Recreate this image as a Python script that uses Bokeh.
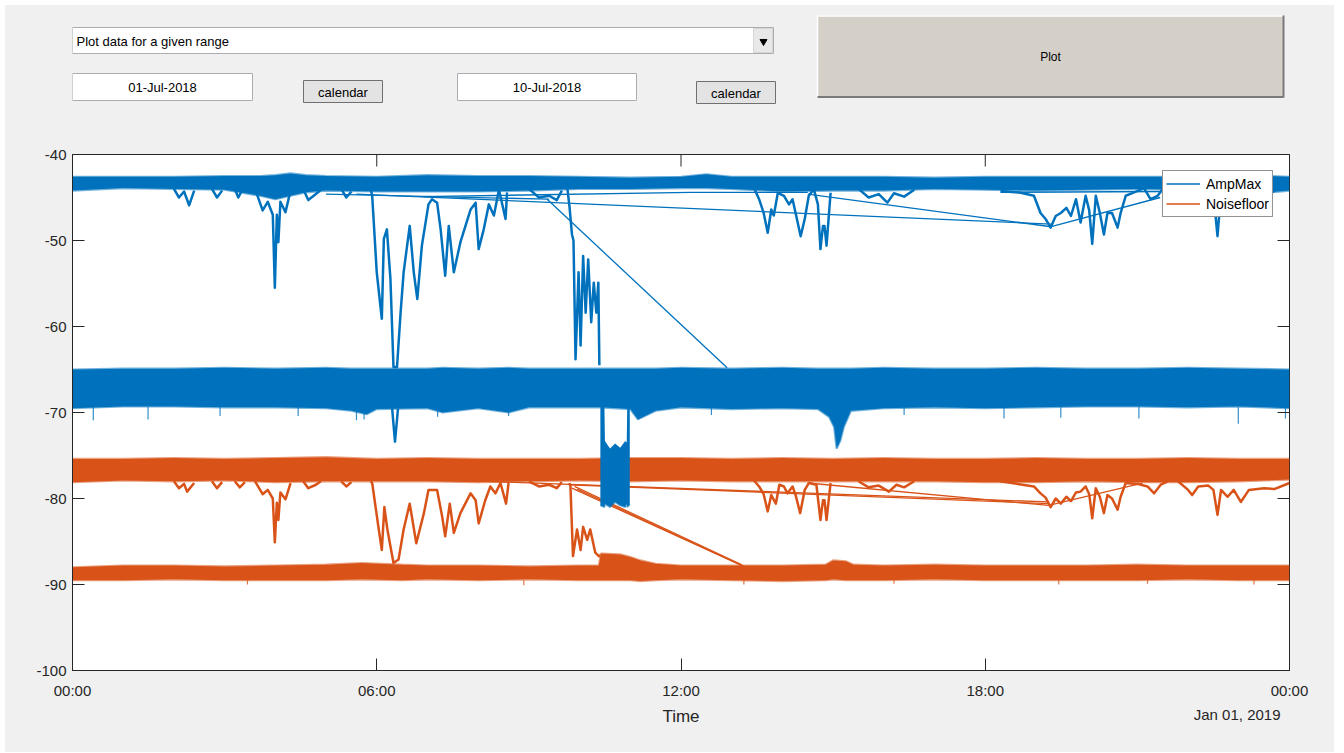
import math
from bokeh.plotting import figure
from bokeh.layouts import column
from bokeh.models import Range1d, FixedTicker, Legend, LegendItem
from bokeh.core.properties import value
from bokeh.embed import file_html
from bokeh.resources import INLINE

BLUE = "#0072BD"
ORANGE = "#D95319"
AX = "#262626"
BG = "#F0F0F0"
FONT = "Liberation Sans"

# ---------------- labels ----------------
RANGE_CHOICE = "Plot data for a given range"
START_DATE = "01-Jul-2018"
END_DATE = "10-Jul-2018"
CAL_TEXT = "calendar"
PLOT_TEXT = "Plot"
SERIES = ["AmpMax", "Noisefloor"]
HOUR_TICKS = [0, 6, 12, 18, 24]
HOUR_LABELS = ["00:00", "06:00", "12:00", "18:00", "00:00"]
LEVEL_TICKS = [-100, -90, -80, -70, -60, -50, -40]
X_TITLE = "Time"
DATE_LABEL = "Jan 01, 2019"

# ---------------- AmpMax: dense band, upper mode (hour, envelope) ----------------
amp_hi_t = [0, 1, 2, 3, 3.7, 4.0, 4.3, 4.6, 5, 6, 7, 8, 9, 10, 11, 12, 12.5, 13,
            14, 15, 16, 17, 18, 19, 20, 21, 22, 23, 23.6, 24]
amp_hi_up = [-42.6, -42.6, -42.6, -42.5, -42.5, -42.4, -42.2, -42.4, -42.5, -42.6,
             -42.4, -42.5, -42.5, -42.6, -42.7, -42.6, -42.3, -42.6, -42.6, -42.6,
             -42.6, -42.7, -42.6, -42.6, -42.6, -42.6, -42.6, -42.6, -42.5, -42.6]
amp_hi_lo = [-44.2, -43.9, -44.0, -44.1, -44.8, -45.2, -44.8, -44.4, -44.2, -44.3,
             -44.3, -44.3, -44.2, -44.0, -44.0, -43.9, -43.9, -44.0, -44.3, -44.2,
             -44.2, -44.0, -44.1, -44.2, -44.1, -44.0, -44.1, -44.0, -44.4, -44.2]

# ---------------- AmpMax: dense band, lower mode ----------------
amp_lo_t = [0, 1, 2, 3, 4, 5, 5.5, 5.8, 6, 7, 7.3, 8, 8.6, 9, 10, 10.4, 11.0, 11.15,
            11.5, 12, 13, 14, 14.7, 14.92, 15.02, 15.07, 15.14, 15.21, 15.35, 16, 17,
            18, 19, 20, 21, 22, 23, 24]
amp_lo_up = [-65.0, -64.9, -64.9, -64.8, -64.9, -64.8, -64.9, -64.9, -64.9, -64.9,
             -64.8, -64.9, -64.8, -64.9, -64.9, -64.9, -64.9, -64.9, -64.9, -64.8,
             -64.9, -64.8, -64.9, -64.9, -64.9, -64.9, -64.9, -64.9, -64.9, -64.8,
             -64.9, -64.9, -64.8, -64.9, -64.9, -64.8, -64.9, -65.0]
amp_lo_lo = [-69.5, -69.3, -69.3, -69.4, -69.4, -69.5, -69.8, -70.2, -69.6, -69.5,
             -70.0, -69.5, -70.0, -69.4, -69.4, -69.4, -69.6, -70.8, -69.8, -69.4,
             -69.6, -69.5, -69.6, -70.5, -71.7, -74.2, -73.3, -71.7, -69.8, -69.5,
             -69.4, -69.5, -69.4, -69.3, -69.3, -69.4, -69.3, -69.5]

# isolated low samples poking out of the AmpMax lower band
amp_lo_spike_t = [0.41, 1.49, 2.91, 4.45, 5.6, 5.75, 7.2, 8.6, 12.6, 16.4, 18.37,
                  19.49, 21.03, 22.99, 23.92]
amp_lo_spike_from = [-69.3, -69.3, -69.3, -69.3, -69.6, -69.8, -69.7, -69.8, -69.4,
                     -69.4, -69.4, -69.4, -69.3, -69.4, -69.3]
amp_lo_spike_to = [-70.9, -70.8, -70.4, -70.4, -70.9, -70.8, -70.5, -70.4, -70.3,
                   -70.3, -70.7, -70.6, -70.7, -71.3, -70.7]

# AmpMax drop-out block around 10:30
amp_gap_t = [10.41, 10.49, 10.5, 10.6, 10.7, 10.8, 10.9, 10.93, 10.94, 10.99]
amp_gap_up = [-69.3, -69.3, -73.3, -74.2, -73.6, -74.1, -73.3, -73.5, -69.3, -69.3]
amp_gap_lo = [-80.8, -81.0, -80.6, -81.0, -80.4, -80.8, -81.0, -80.6, -81.0, -80.7]

# AmpMax excursions below the upper band
amp_dip_x = [
    [2.0, 2.1, 2.2, 2.3, 2.4],
    [2.75, 2.85, 2.95],
    [3.2, 3.27, 3.35],
    [3.6, 3.75, 3.85, 3.95, 3.99, 4.03, 4.06, 4.1, 4.2, 4.3],
    [4.55, 4.65, 4.8, 4.9],
    [5.3, 5.4, 5.5],
    [5.88, 5.91, 6.0, 6.1, 6.14, 6.2, 6.27, 6.33, 6.4, 6.47, 6.53, 6.65, 6.73, 6.8,
     6.89, 7.02, 7.09, 7.19, 7.26, 7.35, 7.42, 7.52, 7.65, 7.85, 7.95, 8.01, 8.11,
     8.21, 8.31, 8.41, 8.54, 8.57],
    [9.0, 9.2, 9.4, 9.55, 9.65],
    [9.76, 9.8, 9.85, 9.88, 9.92, 9.98, 10.02, 10.07, 10.12, 10.17, 10.23, 10.28,
     10.33, 10.37, 10.39],
    [13.44, 13.54, 13.63, 13.71, 13.78, 13.83, 13.91, 14.03, 14.13, 14.2, 14.26,
     14.36, 14.44, 14.52, 14.62, 14.7, 14.75, 14.8, 14.83, 14.87, 14.95],
    [15.5, 15.7, 15.9, 16.07, 16.2, 16.4, 16.6],
    [18.3, 18.7, 18.96, 19.09, 19.19, 19.29, 19.39, 19.49, 19.6, 19.69, 19.79, 19.88,
     19.98, 20.05, 20.11, 20.18, 20.26, 20.34, 20.41, 20.5, 20.61, 20.67, 20.77, 20.9,
     21.13, 21.26, 21.4, 21.5],
    [21.8, 22.08, 22.2, 22.5, 22.58, 22.65, 22.78, 23.04, 23.2, 23.7],
    [6.3, 6.36, 6.42],
]
amp_dip_y = [
    [-44.0, -45.0, -44.3, -45.9, -44.2],
    [-44.0, -45.0, -44.2],
    [-44.0, -45.0, -44.1],
    [-44.0, -46.5, -45.5, -47.0, -55.5, -47.0, -50.2, -45.5, -46.7, -44.2],
    [-44.0, -45.3, -44.6, -44.1],
    [-44.0, -45.0, -44.3],
    [-44.0, -44.8, -53.7, -59.1, -49.8, -48.7, -54.5, -64.7, -64.7, -58.4, -53.7,
     -48.3, -53.7, -56.8, -50.6, -45.8, -45.2, -45.6, -48.7, -54.1, -48.3, -53.7,
     -50.2, -46.4, -45.6, -51.0, -48.7, -45.8, -47.1, -44.1, -47.5, -44.4],
    [-44.0, -45.0, -44.8, -45.3, -44.2],
    [-44.0, -46.0, -49.3, -50.0, -63.8, -53.7, -62.2, -51.8, -58.4, -52.2, -59.5,
     -54.9, -58.4, -54.9, -64.5],
    [-43.9, -45.2, -46.8, -49.1, -46.4, -47.1, -44.45, -44.8, -45.8, -45.2, -46.8,
     -49.5, -47.5, -44.8, -44.05, -45.8, -51.0, -48.3, -48.3, -50.6, -44.45],
    [-44.0, -45.0, -44.6, -45.6, -44.5, -44.9, -44.1],
    [-44.25, -44.45, -44.8, -46.8, -47.5, -48.5, -47.15, -46.8, -46.2, -47.15, -45.2,
     -47.9, -44.8, -46.5, -50.4, -44.8, -46.8, -49.3, -46.8, -46.8, -48.5, -46.8,
     -44.8, -44.5, -43.9, -45.2, -44.8, -44.0],
    [-44.0, -45.2, -44.3, -44.5, -49.5, -44.5, -45.3, -45.8, -44.5, -44.3],
    [-69.3, -73.4, -69.5],
]

# AmpMax straight joins across gaps in the record
amp_link_x = [[5.6, 19.3], [14.5, 19.3], [19.3, 21.45], [6.9, 12.2, 14.5],
              [5.0, 9.4], [18.3, 21.5], [9.36, 12.91]]
amp_link_y = [[-44.6, -48.1], [-44.6, -48.4], [-48.4, -45.0], [-44.9, -44.4, -44.4],
              [-44.6, -45.2], [-44.4, -44.3], [-45.2, -64.8]]

# ---------------- Noisefloor: dense band, upper mode ----------------
nf_hi_t = [0, 1, 2, 3, 4, 5, 6, 7, 8, 9, 10, 11, 12, 13, 14, 15, 16, 17, 18, 19,
           20, 21, 22, 23, 24]
nf_hi_up = [-75.4, -75.4, -75.3, -75.4, -75.3, -75.2, -75.4, -75.3, -75.4, -75.4,
            -75.4, -75.3, -75.3, -75.4, -75.3, -75.4, -75.3, -75.4, -75.4, -75.3,
            -75.4, -75.4, -75.3, -75.4, -75.4]
nf_hi_lo = [-78.1, -77.9, -78.0, -77.9, -78.1, -78.0, -78.0, -78.0, -78.1, -78.0,
            -77.9, -78.0, -77.9, -78.0, -78.0, -78.0, -78.0, -78.0, -78.1, -78.1,
            -78.0, -78.1, -78.1, -78.0, -77.8]

# ---------------- Noisefloor: dense band, lower mode ----------------
nf_lo_t = [0, 1, 2, 3, 4, 5, 5.7, 6.5, 7, 8, 9, 10, 10.38, 10.42, 10.8, 11.0, 11.2,
           11.5, 12, 13, 14, 14.85, 15.0, 15.25, 15.4, 16, 17, 18, 19, 20, 21, 22,
           23, 24]
nf_lo_up = [-88.0, -87.8, -87.8, -87.9, -87.8, -87.7, -87.5, -87.7, -87.8, -87.8,
            -87.9, -87.8, -87.8, -86.4, -86.5, -86.8, -87.2, -87.6, -87.8, -87.8,
            -87.8, -87.7, -87.2, -87.3, -87.7, -87.8, -87.7, -87.8, -87.8, -87.8,
            -87.7, -87.8, -87.8, -87.8]
nf_lo_lo = [-89.5, -89.5, -89.4, -89.5, -89.5, -89.5, -89.4, -89.5, -89.4, -89.5,
            -89.4, -89.5, -89.5, -89.5, -89.5, -89.5, -89.6, -89.5, -89.4, -89.5,
            -89.6, -89.5, -89.4, -89.5, -89.5, -89.5, -89.4, -89.5, -89.5, -89.5,
            -89.5, -89.4, -89.5, -89.5]

# isolated low samples under the Noisefloor lower band
nf_lo_spike_t = [3.45, 8.9, 13.24, 16.2, 19.45, 21.2, 23.3]
nf_lo_spike_from = [-89.5, -89.5, -89.5, -89.5, -89.5, -89.5, -89.5]
nf_lo_spike_to = [-90.0, -90.1, -90.0, -89.9, -90.0, -89.9, -90.0]

# Noisefloor excursions below the upper band
nf_dip_x = [
    [2.0, 2.1, 2.2, 2.26, 2.4],
    [2.75, 2.85, 2.95],
    [3.2, 3.3, 3.4],
    [3.6, 3.75, 3.85, 3.95, 3.99, 4.03, 4.06, 4.1, 4.2, 4.3],
    [4.55, 4.65, 4.8, 4.9],
    [5.3, 5.4, 5.5],
    [5.88, 5.91, 6.04, 6.1, 6.15, 6.21, 6.33, 6.43, 6.53, 6.65, 6.78, 6.93, 7.02,
     7.19, 7.29, 7.35, 7.44, 7.52, 7.65, 7.85, 7.95, 8.01, 8.14, 8.24, 8.34, 8.44,
     8.55, 8.6],
    [9.0, 9.2, 9.4, 9.55, 9.65],
    [9.8, 9.82, 9.87, 9.95, 10.02, 10.07, 10.15, 10.21, 10.31, 10.38, 10.41],
    [13.44, 13.54, 13.63, 13.71, 13.78, 13.87, 13.94, 14.03, 14.1, 14.2, 14.26, 14.35,
     14.44, 14.52, 14.67, 14.75, 14.8, 14.83, 14.87, 14.95],
    [15.5, 15.7, 15.9, 16.1, 16.25, 16.4, 16.6],
    [18.3, 18.96, 19.09, 19.19, 19.29, 19.39, 19.49, 19.6, 19.69, 19.79, 19.88, 19.98,
     20.05, 20.11, 20.18, 20.26, 20.34, 20.41, 20.5, 20.61, 20.67, 20.77, 21.0, 21.2,
     21.33, 21.46, 21.6],
    [21.8, 22.0, 22.08, 22.2, 22.4, 22.5, 22.58, 22.65, 22.78, 22.9, 23.04, 23.2, 23.5,
     23.7, 24.0],
]
nf_dip_y = [
    [-78.0, -78.8, -78.3, -79.2, -78.2],
    [-78.0, -78.8, -78.1],
    [-78.0, -78.7, -78.1],
    [-78.0, -79.5, -79.0, -80.0, -85.1, -80.5, -82.5, -79.3, -80.1, -78.2],
    [-78.0, -78.8, -78.4, -78.0],
    [-78.0, -78.6, -78.1],
    [-78.0, -78.2, -83.6, -86.0, -81.0, -83.6, -87.5, -87.1, -83.6, -80.6, -85.2,
     -81.7, -79.0, -79.0, -82.1, -84.4, -80.6, -84.0, -81.7, -79.4, -80.2, -82.9,
     -80.2, -78.6, -79.4, -78.2, -80.6, -78.2],
    [-78.0, -78.6, -78.4, -78.8, -78.1],
    [-78.2, -78.6, -86.7, -83.6, -86.0, -83.3, -84.8, -83.6, -86.3, -86.7, -86.6],
    [-77.9, -78.6, -79.5, -81.5, -79.6, -80.6, -78.4, -78.6, -79.4, -78.6, -79.6,
     -81.7, -79.0, -78.2, -78.4, -82.5, -80.2, -80.2, -82.5, -78.2],
    [-78.0, -78.7, -78.5, -79.2, -78.4, -78.7, -78.0],
    [-78.0, -78.6, -79.4, -79.9, -81.0, -80.0, -80.6, -79.8, -80.3, -79.3, -79.2,
     -78.6, -79.5, -82.3, -78.8, -79.8, -81.7, -79.6, -80.0, -81.3, -79.8, -78.2,
     -78.3, -78.6, -79.4, -78.4, -78.0],
    [-78.0, -79.0, -79.6, -78.6, -78.5, -79.0, -81.9, -79.0, -79.8, -79.0, -80.4,
     -79.0, -78.8, -78.9, -78.2],
]

# Noisefloor straight joins across gaps in the record
nf_link_x = [[7.2, 19.25], [14.5, 19.25], [19.25, 21.1], [9.8, 19.25],
             [9.85, 13.24], [9.9, 13.2], [9.95, 13.28]]
nf_link_y = [[-77.8, -80.4], [-78.2, -80.8], [-80.8, -78.2], [-78.4, -80.6],
             [-78.8, -87.9], [-78.6, -87.7], [-78.9, -88.0]]

# shared horizontal borders so the three stacked panels line up
BORDER_L, BORDER_R = 67, 45


def strip(height, x_range, y_range):
    f = figure(width=1329, height=height, x_range=x_range, y_range=y_range,
               x_axis_type=None, y_axis_type=None, toolbar_location=None,
               output_backend="svg", min_border_left=BORDER_L, min_border_right=BORDER_R,
               min_border_top=0, min_border_bottom=0, outline_line_color=None,
               background_fill_color=BG, border_fill_color=BG)
    return f


gui_font = value(FONT)

# ---------------- control strip (pixel coordinates) ----------------
top = strip(135, Range1d(72, 1289), Range1d(140, 5))

# drop-down
top.quad(left=72, right=773, top=27, bottom=53, fill_color="white", line_color="#ABADB3")
top.quad(left=753, right=772, top=28, bottom=52, fill_color="#E8E8E8", line_color="#D6D6D6")
top.scatter(x=[763], y=[41], marker="inverted_triangle", size=7, color="black")
top.text(x=[76], y=[41], text=[RANGE_CHOICE], text_font=gui_font, text_font_size="13px",
         text_align="left", text_baseline="middle", text_color="black")

# date fields
for left, right, label in [(72, 252, START_DATE), (457, 636, END_DATE)]:
    top.quad(left=left, right=right, top=73, bottom=100, fill_color="white",
             line_color="#ABADB3")
    top.text(x=[(left + right) / 2], y=[86.5], text=[label], text_font=gui_font,
             text_font_size="13px", text_align="center", text_baseline="middle",
             text_color="black")

# calendar buttons
for left, right, y0 in [(303, 382, 80), (696, 775, 81)]:
    top.quad(left=left, right=right, top=y0, bottom=y0 + 22, fill_color="#E3E3E3",
             line_color="#707070")
    top.text(x=[(left + right) / 2], y=[y0 + 11.5], text=[CAL_TEXT], text_font=gui_font,
             text_font_size="13px", text_align="center", text_baseline="middle",
             text_color="black")

# Plot button with raised edge
top.quad(left=817, right=1283, top=15, bottom=97, fill_color="#D4D0C8", line_color=None)
top.segment(x0=[817, 817], y0=[15.5, 15], x1=[1283, 817], y1=[15.5, 97],
            line_color="white", line_width=1.5)
top.segment(x0=[817, 1283], y0=[96.5, 15], x1=[1283, 1283], y1=[96.5, 97],
            line_color="#7A7A7A", line_width=2)
top.text(x=[1050], y=[56], text=[PLOT_TEXT], text_font=gui_font, text_font_size="12px",
         text_align="center", text_baseline="middle", text_color="black")


# ---------------- main axes ----------------
p = figure(width=1329, height=561, x_range=Range1d(0, 24), y_range=Range1d(-100, -40),
           toolbar_location=None, output_backend="svg",
           min_border_left=BORDER_L, min_border_right=BORDER_R, min_border_top=14,
           min_border_bottom=30, background_fill_color="white", border_fill_color=BG,
           outline_line_color=AX, outline_line_width=1)
p.grid.visible = False


def dense_band(t, lo, up, color):
    p.varea(x=t, y1=lo, y2=up, fill_color=color)
    p.line(t, up, line_color=color, line_width=2.2, line_alpha=0.55)
    p.line(t, lo, line_color=color, line_width=2.2, line_alpha=0.55)


# AmpMax
dense_band(amp_hi_t, amp_hi_lo, amp_hi_up, BLUE)
dense_band(amp_lo_t, amp_lo_lo, amp_lo_up, BLUE)
p.segment(x0=amp_lo_spike_t, y0=amp_lo_spike_from, x1=amp_lo_spike_t,
          y1=amp_lo_spike_to, line_color=BLUE, line_width=1.2, line_alpha=0.8)
r_amp_link = p.multi_line(xs=amp_link_x, ys=amp_link_y, line_color=BLUE, line_width=1.3)
p.multi_line(xs=amp_dip_x, ys=amp_dip_y, line_color=BLUE, line_width=2.5,
             line_join="round")

# Noisefloor
dense_band(nf_hi_t, nf_hi_lo, nf_hi_up, ORANGE)
dense_band(nf_lo_t, nf_lo_lo, nf_lo_up, ORANGE)
p.segment(x0=nf_lo_spike_t, y0=nf_lo_spike_from, x1=nf_lo_spike_t,
          y1=nf_lo_spike_to, line_color=ORANGE, line_width=1.2, line_alpha=0.8)
r_nf_link = p.multi_line(xs=nf_link_x, ys=nf_link_y, line_color=ORANGE, line_width=1.3)
p.multi_line(xs=nf_dip_x, ys=nf_dip_y, line_color=ORANGE, line_width=2.5,
             line_join="round")

# AmpMax drop-out block sits over the noise floor band
p.varea(x=amp_gap_t, y1=amp_gap_lo, y2=amp_gap_up, fill_color=BLUE)
p.line(amp_gap_t, amp_gap_lo, line_color=BLUE, line_width=2, line_alpha=0.55)

# left / bottom axes with inward ticks
p.xaxis.ticker = FixedTicker(ticks=HOUR_TICKS)
p.xaxis.major_label_overrides = {t: s for t, s in zip(HOUR_TICKS, HOUR_LABELS)}
p.yaxis.ticker = FixedTicker(ticks=LEVEL_TICKS)
p.yaxis.major_label_overrides = {t: str(t) for t in LEVEL_TICKS}
for ax in (p.xaxis[0], p.yaxis[0]):
    ax.major_tick_in = 12
    ax.major_tick_out = 0
    ax.minor_tick_line_color = None
    ax.axis_line_color = AX
    ax.major_tick_line_color = AX
    ax.major_label_text_font = FONT
    ax.major_label_text_font_size = "15px"
    ax.major_label_text_color = AX
p.xaxis.major_label_standoff = 11
p.yaxis.major_label_standoff = 6

# mirrored inward ticks on the top and right edges (half of each dash is clipped)
p.scatter(x=HOUR_TICKS, y=[-40] * len(HOUR_TICKS), marker="dash", size=24,
          angle=math.pi / 2, line_color=AX, line_width=1)
p.scatter(x=[24] * len(LEVEL_TICKS), y=LEVEL_TICKS, marker="dash", size=24,
          line_color=AX, line_width=1)

legend = Legend(items=[LegendItem(label=SERIES[0], renderers=[r_amp_link]),
                       LegendItem(label=SERIES[1], renderers=[r_nf_link])],
                location="top_right", margin=16, padding=3, spacing=1,
                glyph_width=34, glyph_height=19, label_height=19, label_standoff=6,
                label_text_font=FONT, label_text_font_size="14px",
                label_text_color="black", border_line_color=AX,
                border_line_width=1, background_fill_color="white",
                background_fill_alpha=1)
p.add_layout(legend)

# ---------------- axis title row ----------------
bottom = strip(51, Range1d(0, 24), Range1d(51, 0))
bottom.text(x=[12], y=[15], text=[X_TITLE], text_font=gui_font, text_font_size="17px",
            text_align="center", text_baseline="middle", text_color=AX)
bottom.text(x=[24], y=[13], text=[DATE_LABEL], text_font=gui_font, text_font_size="15px",
            text_align="right", text_baseline="middle", x_offset=-9, text_color=AX)

page = column(top, p, bottom, spacing=0, margin=(5, 0, 0, 5),
              styles={"background-color": BG})
open("out.html", "w").write(file_html(page, INLINE))
